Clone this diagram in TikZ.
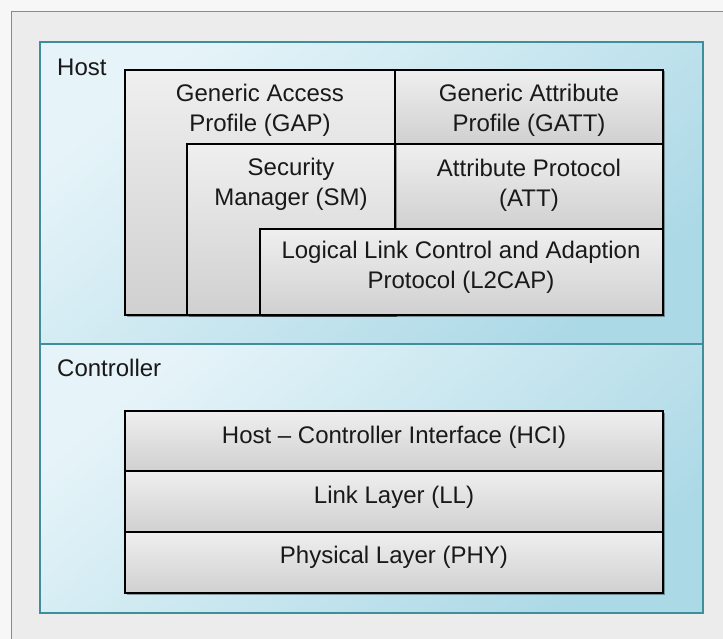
\documentclass[tikz,border=0pt]{standalone}
\usepackage{fontspec}
\setmainfont{Liberation Sans}
\usetikzlibrary{shadows}
\definecolor{pagebg}{HTML}{F7F7F7}
\definecolor{panelgray}{HTML}{ECECEC}
\definecolor{panelline}{HTML}{8A8A8A}
\definecolor{bluelight}{HTML}{E6F4F9}
\definecolor{bluedark}{HTML}{ACD9E6}
\definecolor{blueline}{HTML}{3F8E9C}
\definecolor{boxtop}{HTML}{EFEFEF}
\definecolor{boxbot}{HTML}{D0D0D0}
\begin{document}
\begin{tikzpicture}[x=1pt,y=-1pt,
  lbl/.style={font=\fontsize{24}{30}\selectfont, align=center, inner sep=0pt, text=black!90},
  sect/.style={draw=blueline, line width=1.5pt, top color=bluelight, bottom color=bluedark, shading angle=40},
  layer/.style={draw=black, line width=1.6pt, top color=boxtop, bottom color=boxbot,
     drop shadow={shadow xshift=1.5pt, shadow yshift=-1.5pt, opacity=0.35, fill=black}}]
\useasboundingbox (0,0) rectangle (723,639);
\fill[pagebg] (0,0) rectangle (723,639);
% outer gray panel
\path[fill=panelgray, draw=panelline, line width=1pt] (11,12) -- (730,12) -- (730,650) -- (11,650) -- cycle;
% host and controller sections
\path[sect] (40,42) rectangle (703,344);
\path[sect] (40,344) rectangle (703,613);
\node[lbl, anchor=west] (host) at (57,67) {Host};
\node[lbl, anchor=west] (ctrl) at (57,368) {Controller};
% host layers
\path[layer] (125,70) rectangle (395,315);
\path[layer] (395,70) rectangle (663,144);
\path[layer] (395,144) rectangle (663,229);
\path[layer] (187,144) rectangle (395,315);
\path[layer] (260,229) rectangle (663,315);
\node[lbl] (gap) at (260,110) {Generic Access\\Profile (GAP)};
\node[lbl] (gatt) at (529,110) {Generic Attribute\\Profile (GATT)};
\node[lbl] (sm) at (291,184) {Security\\Manager (SM)};
\node[lbl] (att) at (529,185) {Attribute Protocol\\(ATT)};
\node[lbl] (l2cap) at (461,267) {Logical Link Control and Adaption\\Protocol (L2CAP)};
% controller layers
\path[layer] (125,411) rectangle (663,471);
\path[layer] (125,471) rectangle (663,532);
\path[layer] (125,532) rectangle (663,593);
\node[lbl] (hci) at (394,437) {Host – Controller Interface (HCI)};
\node[lbl] (ll) at (394,497) {Link Layer (LL)};
\node[lbl] (phy) at (394,557) {Physical Layer (PHY)};
\end{tikzpicture}
\end{document}
